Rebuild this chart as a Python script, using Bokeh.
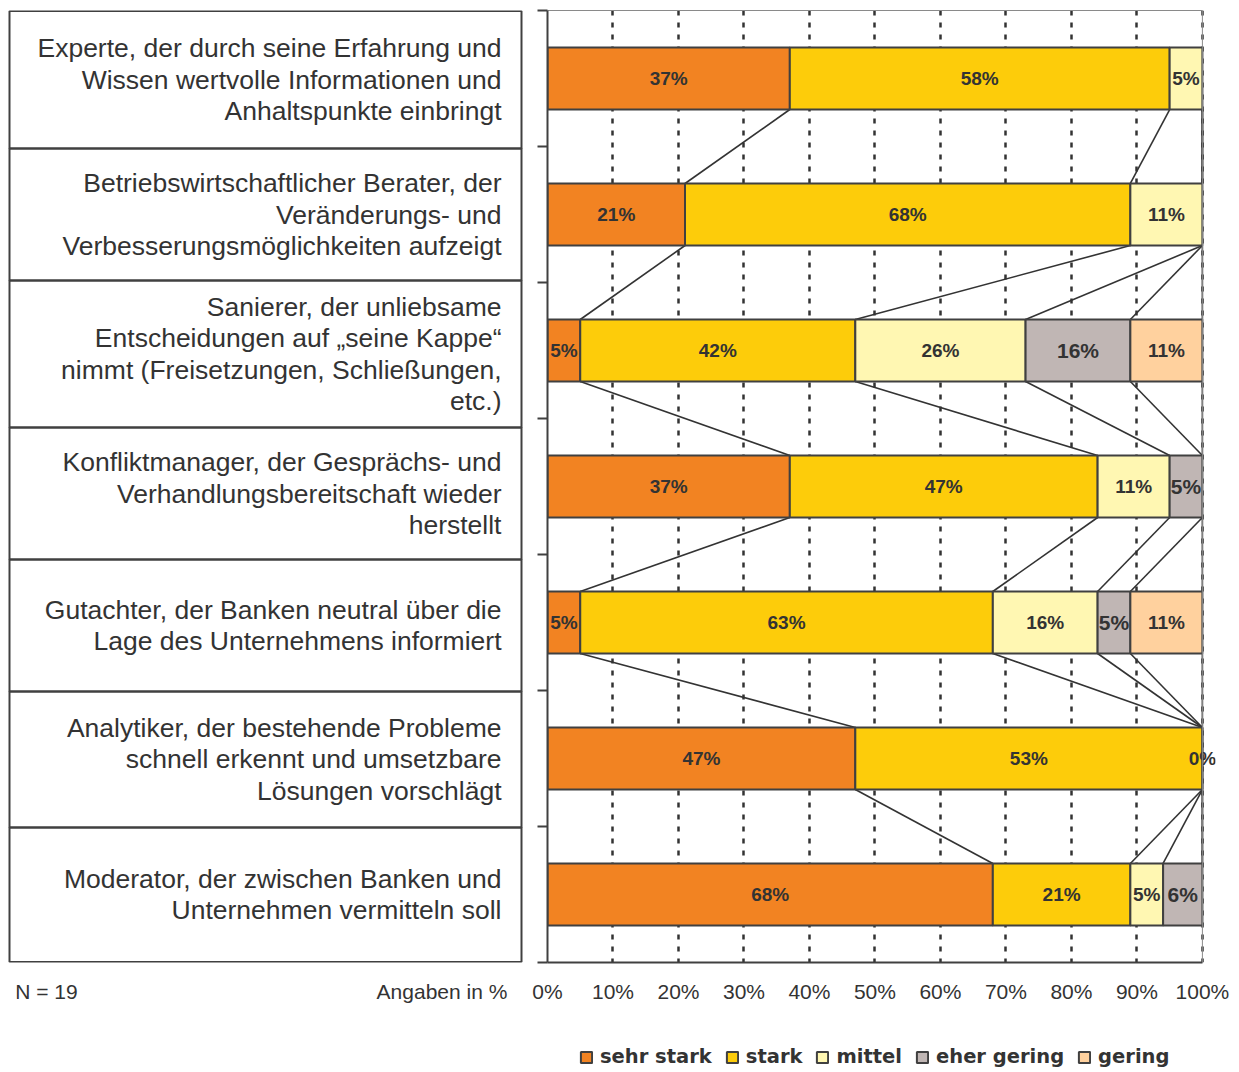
from bokeh.plotting import figure
from bokeh.models import (ColumnDataSource, Range1d, FixedTicker, Legend, LegendItem,
                          LinearAxis, Span)
from bokeh.layouts import row, column
from bokeh.embed import file_html
from bokeh.resources import INLINE
from bokeh.core.properties import value

# ---------------- data ----------------
categories = [
    "Experte, der durch seine Erfahrung und\nWissen wertvolle Informationen und\nAnhaltspunkte einbringt",
    "Betriebswirtschaftlicher Berater, der\nVeränderungs- und\nVerbesserungsmöglichkeiten aufzeigt",
    "Sanierer, der unliebsame\nEntscheidungen auf \u201eseine Kappe\u201c\nnimmt (Freisetzungen, Schließungen,\netc.)",
    "Konfliktmanager, der Gesprächs- und\nVerhandlungsbereitschaft wieder\nherstellt",
    "Gutachter, der Banken neutral über die\nLage des Unternehmens informiert",
    "Analytiker, der bestehende Probleme\nschnell erkennt und umsetzbare\nLösungen vorschlägt",
    "Moderator, der zwischen Banken und\nUnternehmen vermitteln soll",
]
series_names = ["sehr stark", "stark", "mittel", "eher gering", "gering"]
sehr_stark = [37, 21, 5, 37, 5, 47, 68]
stark = [58, 68, 42, 47, 63, 53, 21]
mittel = [5, 11, 26, 11, 16, 0, 5]
eher_gering = [None, None, 16, 5, 5, None, 6]
gering = [None, None, 11, None, 11, None, None]
x_ticks = [0, 10, 20, 30, 40, 50, 60, 70, 80, 90, 100]
x_tick_labels = ["0%", "10%", "20%", "30%", "40%", "50%", "60%", "70%", "80%", "90%", "100%"]
note_left = "N = 19"
note_right = "Angaben in %"

series_values = [sehr_stark, stark, mittel, eher_gering, gering]
colors = ["#F28322", "#FDCC0A", "#FFF7B2", "#C0B6B4", "#FFD19E"]
label_sizes = ["19px", "19px", "19px", "21px", "19px"]

TEXT = "#333333"
EDGE = "#404040"
FONT = "Liberation Sans"
n = len(categories)
BAR_H = 0.456
X_END = 102  # a little room right of 100 % so that edge labels are not clipped
TOP_H = 1020
LEG_H = 52

# ---------------- right: chart ----------------
p = figure(width=712, height=TOP_H, x_range=Range1d(0, X_END), y_range=Range1d(n, 0),
           output_backend="svg", toolbar_location=None,
           min_border_left=20, min_border_right=24, min_border_top=10, min_border_bottom=58)
p.outline_line_color = None
p.background_fill_color = "white"
p.border_fill_color = "white"

p.xaxis.ticker = FixedTicker(ticks=x_ticks)
p.xaxis.bounds = (0, 100)
p.xaxis.major_label_overrides = {t: l for t, l in zip(x_ticks, x_tick_labels)}
p.xaxis.major_tick_in = 0
p.xaxis.major_tick_out = 0
p.xaxis.minor_tick_line_color = None
p.xaxis.axis_line_color = EDGE
p.xaxis.axis_line_width = 2
p.xaxis.major_label_standoff = 17
p.xaxis.major_label_text_font = FONT
p.xaxis.major_label_text_font_size = "21px"
p.xaxis.major_label_text_color = TEXT

p.yaxis.ticker = FixedTicker(ticks=list(range(n + 1)))
p.yaxis.major_label_overrides = {i: "" for i in range(n + 1)}
p.yaxis.major_label_standoff = 0
p.yaxis.major_tick_in = 0
p.yaxis.major_tick_out = 10
p.yaxis.major_tick_line_color = EDGE
p.yaxis.major_tick_line_width = 2
p.yaxis.minor_tick_line_color = None
p.yaxis.axis_line_color = EDGE
p.yaxis.axis_line_width = 2

# thin frame border on top and at 100 %
top_axis = LinearAxis(bounds=(0, 100), ticker=FixedTicker(ticks=[]), axis_line_color="#8a8a8a",
                      axis_line_width=1, major_tick_out=0, major_tick_in=0,
                      minor_tick_line_color=None, major_label_standoff=0)
p.add_layout(top_axis, "above")
p.add_layout(Span(location=100, dimension="height", line_color="#8a8a8a", line_width=1))

p.ygrid.visible = False
p.xgrid.ticker = FixedTicker(ticks=x_ticks[1:])
p.xgrid.grid_line_color = "#333333"
p.xgrid.grid_line_dash = "5 7"
p.xgrid.grid_line_width = 2.5

cum = [0] * n
ends = []
bar_sources = []
for name, vals in zip(series_names, series_values):
    ys, lefts, rights, labels, mids = [], [], [], [], []
    end_s = []
    for i, v in enumerate(vals):
        if v is None:
            end_s.append(cum[i])
            continue
        ys.append(i + 0.5)
        lefts.append(cum[i])
        rights.append(cum[i] + v)
        labels.append(f"{v}%")
        mids.append(cum[i] + v / 2)
        cum[i] += v
        end_s.append(cum[i])
    ends.append(end_s)
    bar_sources.append(ColumnDataSource(dict(y=ys, left=lefts, right=rights, label=labels, mid=mids)))

# connector lines between consecutive bars
x0, y0, x1, y1 = [], [], [], []
for end_s in ends:
    for i in range(n - 1):
        x0.append(end_s[i]); y0.append(i + 0.5 + BAR_H / 2)
        x1.append(end_s[i + 1]); y1.append(i + 1.5 - BAR_H / 2)
p.segment(x0=x0, y0=y0, x1=x1, y1=y1, line_color="#333333", line_width=1.6)

for src, col in zip(bar_sources, colors):
    p.hbar(y="y", left="left", right="right", height=BAR_H, source=src,
           fill_color=col, line_color=EDGE, line_width=2)

for src, size in zip(bar_sources, label_sizes):
    p.text(x="mid", y="y", text="label", source=src, text_align="center",
           text_baseline="middle", text_font=value(FONT), text_font_style="bold",
           text_font_size=size, text_color=TEXT)

# ---------------- left: label table ----------------
left = figure(width=527, height=TOP_H, x_range=Range1d(0, 527), y_range=Range1d(n, 0),
              y_axis_type=None, output_backend="svg", toolbar_location=None,
              min_border_left=0, min_border_right=0, min_border_top=10, min_border_bottom=58)
left.outline_line_color = None
left.background_fill_color = "white"
left.border_fill_color = "white"
left.xgrid.visible = False

# the two notes below the table sit on the left panel's bottom axis
note_pos = [46, 441.5]
left.xaxis.ticker = FixedTicker(ticks=note_pos)
left.xaxis.major_label_overrides = {note_pos[0]: note_left, note_pos[1]: note_right}
left.xaxis.axis_line_color = None
left.xaxis.major_tick_line_color = None
left.xaxis.minor_tick_line_color = None
left.xaxis.major_tick_out = 0
left.xaxis.major_tick_in = 0
left.xaxis.major_label_standoff = 17
left.xaxis.major_label_text_font = FONT
left.xaxis.major_label_text_font_size = "21px"
left.xaxis.major_label_text_color = TEXT

row_edges = [0.004, 1.015, 1.985, 3.066, 4.037, 5.007, 6.007, 6.996]
left.quad(left=9, right=521, top=row_edges[:-1], bottom=row_edges[1:],
          fill_color=None, line_color=EDGE, line_width=2)
centers = [(a + b) / 2 for a, b in zip(row_edges[:-1], row_edges[1:])]
left.text(x=[501] * n, y=centers, text=categories, text_align="right", text_baseline="middle",
          text_font=value(FONT), text_font_size="26.5px", text_color=TEXT,
          text_line_height=1.05)

# ---------------- bottom: legend strip ----------------
lg = figure(width=1239, height=LEG_H, x_range=Range1d(0, 1), y_range=Range1d(0, 1),
            x_axis_type=None, y_axis_type=None, output_backend="svg", toolbar_location=None,
            min_border_left=0, min_border_right=24, min_border_top=0, min_border_bottom=0)
lg.outline_line_color = None
lg.background_fill_color = "white"
lg.border_fill_color = "white"
leg_renderers = []
for src, col in zip(bar_sources, colors):
    # legend keys only: same series, same styling; hidden here (shown in the chart above)
    leg_renderers.append(lg.hbar(y="y", left="left", right="right", height=BAR_H, source=src,
                                 fill_color=col, line_color=EDGE, line_width=2, visible=False))

legend = Legend(items=[LegendItem(label=nm, renderers=[r]) for nm, r in zip(series_names, leg_renderers)],
                orientation="horizontal", location=(579, 4))
legend.glyph_width = 14
legend.glyph_height = 14
legend.label_standoff = 7
legend.spacing = 13
legend.padding = 0
legend.margin = 0
legend.border_line_color = None
legend.background_fill_alpha = 0
legend.inactive_fill_alpha = 0
legend.label_text_font = "DejaVu Sans"
legend.label_text_font_style = "bold"
legend.label_text_font_size = "19.5px"
legend.label_text_color = TEXT
legend.label_height = 20
lg.add_layout(legend)

layout = column(row(left, p), lg)
open("out.html", "w").write(file_html(layout, INLINE))
